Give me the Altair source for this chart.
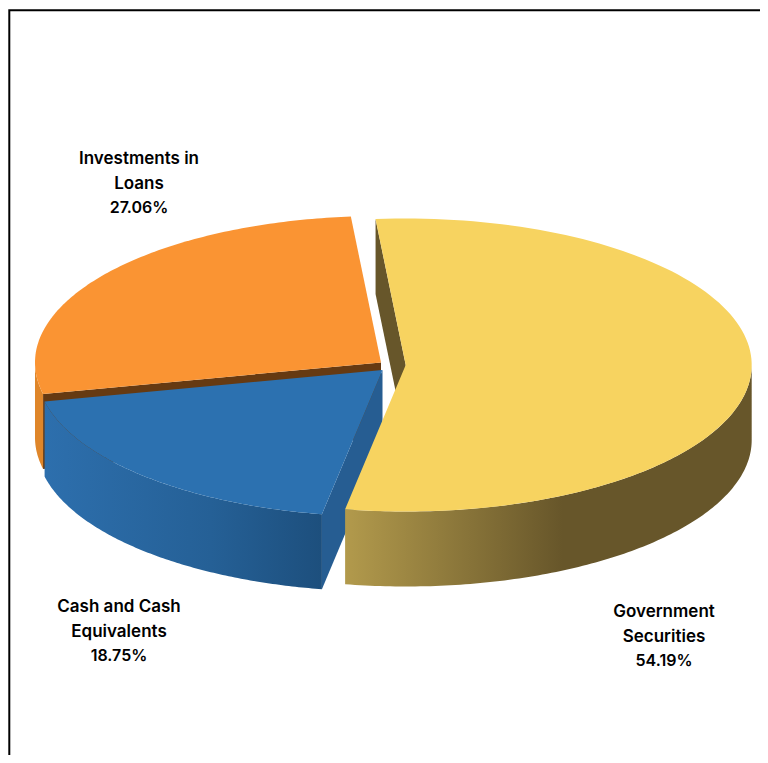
import math
import altair as alt
import pandas as pd

# Chart values
categories = ["Government\nSecurities", "Cash and Cash\nEquivalents", "Investments in\nLoans"]
shares = [54.19, 18.75, 27.06]
share_labels = ["54.19%", "18.75%", "27.06%"]

# Drawing parameters (page pixels)
RX, RY, DEPTH = 346.0, 146.5, 75.0
START = 95.0
APEX = [(405.7, 365.0), (382.5, 370.0), (381.0, 362.5)]
LABEL_AT = [(664, 612), (119, 607), (139, 159)]
LINE_GAP = 24.5
FONT = "Inter"

# The page must not grow past the window: plot area ends here
RIGHT, BOTTOM = 760, 755

angles = [START]
for s in shares:
    angles.append(angles[-1] - s * 3.6)
t_yellow = (angles[0], angles[1])
t_blue = (angles[1], angles[2])
t_orange = (angles[2], angles[3])


def arc(c, t0, t1, dy=0.0, n=120):
    return [
        (c[0] + RX * math.cos(math.radians(t0 + (t1 - t0) * i / n)),
         c[1] - RY * math.sin(math.radians(t0 + (t1 - t0) * i / n)) + dy)
        for i in range(n + 1)
    ]


def pt(c, t, dy=0.0):
    return arc(c, t, t, dy, 1)[0]


def sector(c, t):
    return [c] + arc(c, t[0], t[1])


def outer_wall(c, t0, t1):
    return arc(c, t0, t1) + arc(c, t1, t0, DEPTH)


def radial_wall(c, t):
    p = pt(c, t)
    return [c, p, (p[0], p[1] + DEPTH), (c[0], c[1] + DEPTH)]


x_scale = alt.Scale(domain=[8, RIGHT], range=[0, RIGHT - 8], nice=False, zero=False)
y_scale = alt.Scale(domain=[8, BOTTOM], range=[0, BOTTOM - 8], nice=False, zero=False)


def shape(points, fill):
    df = pd.DataFrame({"x": [p[0] for p in points], "y": [p[1] for p in points],
                       "i": range(len(points))})
    return alt.Chart(df).mark_line(fill=fill, strokeWidth=0, clip=False).encode(
        x=alt.X("x:Q", scale=x_scale, axis=None),
        y=alt.Y("y:Q", scale=y_scale, axis=None),
        order="i:Q",
    )


def grad(stops):
    return alt.Gradient(
        gradient="linear", x1=0, y1=0, x2=1, y2=0,
        stops=[alt.GradientStop(offset=o, color=c) for o, c in stops],
    )


yellow_apex, blue_apex, orange_apex = APEX
layers = [
    # orange
    shape(outer_wall(orange_apex, t_orange[0] + 360.0, 180.0), "#df862a"),
    shape(radial_wall(orange_apex, t_orange[0]), "#663a12"),
    shape(sector(orange_apex, t_orange), "#fa9433"),
    # blue
    shape(radial_wall(blue_apex, t_blue[0]), "#265d92"),
    shape(outer_wall(blue_apex, t_blue[0], t_blue[1]),
          grad([(0, "#2d6fad"), (0.6, "#256096"), (1, "#1d4f7d")])),
    shape(sector(blue_apex, t_blue), "#2c71b0"),
    # yellow
    shape(radial_wall(yellow_apex, t_yellow[0]), "#67562a"),
    shape(outer_wall(yellow_apex, 0.0, t_yellow[1]),
          grad([(0, "#b29a4c"), (0.535, "#67562a"), (1, "#67562a")])),
    shape(sector(yellow_apex, t_yellow), "#f7d360"),
]

frame = pd.DataFrame({"x": [9.3, 9.3, RIGHT], "y": [BOTTOM, 10.2, 10.2], "i": [0, 1, 2]})
layers.append(
    alt.Chart(frame).mark_line(color="black", strokeWidth=2).encode(
        x=alt.X("x:Q", scale=x_scale, axis=None),
        y=alt.Y("y:Q", scale=y_scale, axis=None),
        order="i:Q",
    )
)


def text_layer(rows, size):
    df = pd.DataFrame(rows, columns=["x", "y", "t"])
    return alt.Chart(df).mark_text(
        font=FONT, fontSize=size, fontWeight=600, color="black",
        align="center", baseline="middle", lineBreak="\n", lineHeight=LINE_GAP,
    ).encode(
        x=alt.X("x:Q", scale=x_scale, axis=None),
        y=alt.Y("y:Q", scale=y_scale, axis=None),
        text="t:N",
    )


layers.append(text_layer(
    [(p[0], p[1], c) for p, c in zip(LABEL_AT, categories)], 17))
layers.append(text_layer(
    [(p[0], p[1] + 2 * LINE_GAP, s) for p, s in zip(LABEL_AT, share_labels)], 16))

chart = alt.layer(*layers).properties(
    width=RIGHT - 8, height=BOTTOM - 8, padding=0,
    autosize=alt.AutoSizeParams(type="none"),
    background="white",
).configure_view(stroke=None)

chart.save("out.html", embed_options={"renderer": "svg", "actions": False})
